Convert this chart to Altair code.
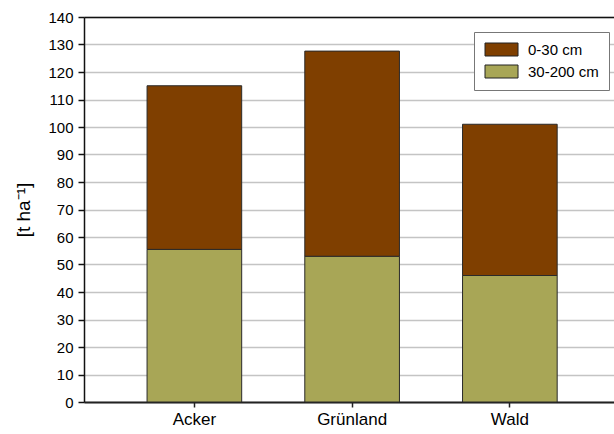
import altair as alt
import pandas as pd

# Carbon stocks per land use, split by soil depth
categories = ["Acker", "Grünland", "Wald"]
layers = ["0-30 cm", "30-200 cm"]
topsoil = [59.5, 74.6, 55.0]      # 0-30 cm
subsoil = [55.5, 53.0, 46.0]      # 30-200 cm
colors = ["#7F3F00", "#A8A656"]
y_ticks = list(range(0, 141, 10))

rows = []
for cat, top, sub in zip(categories, topsoil, subsoil):
    rows.append({"Nutzung": cat, "Tiefe": layers[1], "Wert": sub, "Reihe": 0})
    rows.append({"Nutzung": cat, "Tiefe": layers[0], "Wert": top, "Reihe": 1})
df = pd.DataFrame(rows)

FONT = "Liberation Sans"
# wide swatch: starts at the left edge of the nominal symbol box and runs right
rect_path = "M-1,-1H4.08V1H-1Z"

x_scale = alt.Scale(paddingInner=0.4, paddingOuter=0.38, align=0.526)
y_scale = alt.Scale(domain=[0, 140], nice=False)
y_axis = alt.Axis(
    title="[t ha⁻¹]",
    values=y_ticks,
    labelOverlap=False,
    labelFontSize=15,
    labelPadding=5,
    tickSize=6,
    tickColor="#111111",
    tickWidth=1.5,
    domainColor="#111111",
    domainWidth=1.5,
    titleFontSize=19,
    titleFontWeight="normal",
    titlePadding=14,
    grid=True,
    gridColor="#c4c4c4",
    gridWidth=1.4,
)

bars = alt.Chart(df).mark_bar(stroke="#2a2a2a", strokeWidth=1).encode(
    x=alt.X(
        "Nutzung:N",
        sort=categories,
        scale=x_scale,
        axis=alt.Axis(
            title=None,
            labelAngle=0,
            labelFontSize=17,
            labelPadding=4,
            tickSize=5,
            tickColor="#222222",
            tickWidth=1.5,
            domainColor="#222222",
            domainWidth=2,
            grid=False,
        ),
    ),
    y=alt.Y("Wert:Q", stack="zero", scale=y_scale, axis=y_axis),
    color=alt.Color(
        "Tiefe:N",
        scale=alt.Scale(domain=layers, range=colors),
        legend=alt.Legend(
            title=None,
            orient="none",
            legendX=390,
            legendY=15,
            symbolType=rect_path,
            symbolSize=169,
            symbolStrokeColor="#222222",
            symbolStrokeWidth=1,
            symbolOpacity=1,
            labelFontSize=15,
            labelOffset=29,
            rowPadding=5,
            padding=10,
            strokeColor="#777777",
            fillColor="white",
            cornerRadius=0,
        ),
    ),
    order=alt.Order("Reihe:Q", sort="ascending"),
)

# invisible copy of the bars that carries a bare top axis as the upper frame line
frame = alt.Chart(df).mark_bar(opacity=0).encode(
    x=alt.X(
        "Nutzung:N",
        sort=categories,
        scale=x_scale,
        axis=alt.Axis(
            orient="top",
            title=None,
            labels=False,
            ticks=False,
            grid=False,
            domainColor="#111111",
            domainWidth=1.5,
        ),
    ),
    y=alt.Y("Wert:Q", stack="zero", scale=y_scale, axis=y_axis),
)

chart = (
    alt.layer(bars, frame)
    .resolve_axis(x="independent")
    .properties(
        width=530,
        height=385,
        autosize=alt.AutoSizeParams(type="none"),
        padding={"left": 84, "top": 17, "right": 0, "bottom": 32},
    )
    .configure_view(stroke="white", strokeOpacity=0, strokeWidth=0)
    .configure_axis(labelFont=FONT, titleFont=FONT, labelColor="#000000", titleColor="#000000")
    .configure_legend(labelFont=FONT, labelColor="#000000")
    .configure(background="white")
)

chart.save("out.html", embed_options={"renderer": "svg", "actions": False})
